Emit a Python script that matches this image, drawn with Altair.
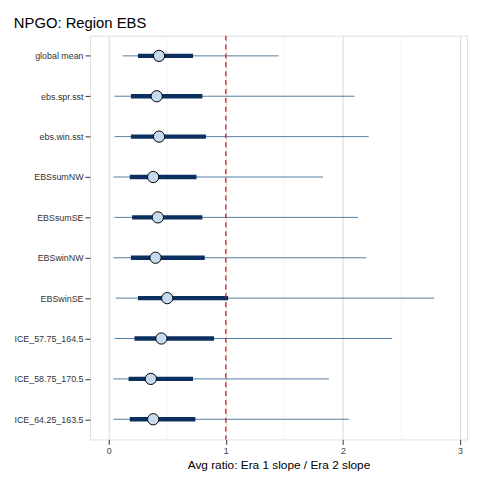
import altair as alt
import pandas as pd

labels = ["global mean","ebs.spr.sst","ebs.win.sst","EBSsumNW","EBSsumSE","EBSwinNW","EBSwinSE","ICE_57.75_164.5","ICE_58.75_170.5","ICE_64.25_163.5"]
mid = [0.43,0.41,0.43,0.38,0.42,0.40,0.50,0.45,0.36,0.38]
lo95 = [0.12,0.05,0.05,0.04,0.05,0.04,0.06,0.05,0.04,0.04]
hi95 = [1.45,2.10,2.22,1.83,2.13,2.20,2.78,2.42,1.88,2.05]
lo50 = [0.25,0.19,0.19,0.18,0.20,0.19,0.25,0.22,0.17,0.18]
hi50 = [0.72,0.80,0.83,0.75,0.80,0.82,1.02,0.90,0.72,0.74]

df = pd.DataFrame(dict(label=labels, mid=mid, lo95=lo95, hi95=hi95, lo50=lo50, hi50=hi50))
minor = pd.DataFrame(dict(v=[0.5,1.5,2.5]))

xs = alt.Scale(domain=[-0.16,3.06], nice=False)
ys = alt.Scale(type="point", padding=0.5, domain=labels)

y = alt.Y("label:N", scale=ys, sort=labels, title=None,
          axis=alt.Axis(labelColor="#333", labelFontSize=9, tickColor="#333", gridColor="#d9d9d9", domain=False))
xaxis = alt.Axis(values=[0,1,2,3], format="d", labelColor="#444", labelFontSize=9, gridColor="#d9d9d9",
                 tickColor="#333", title="Avg ratio: Era 1 slope / Era 2 slope", titleFontWeight="normal",
                 titleFontSize=12, titleColor="#000", domain=False, titlePadding=4)

grid = alt.Chart(minor).mark_rule(color="#ececec", strokeWidth=0.6).encode(x=alt.X("v:Q", scale=xs, axis=xaxis))
thin = alt.Chart(df).mark_rule(strokeWidth=0.9, color="#3f6f96").encode(
    x=alt.X("lo95:Q", scale=xs, axis=xaxis), x2="hi95", y=y)
thick = alt.Chart(df).mark_rule(strokeWidth=4.5, color="#0b2f5e").encode(
    x=alt.X("lo50:Q", scale=xs), x2="hi50", y=y)
vline = alt.Chart(pd.DataFrame(dict(v=[1]))).mark_rule(color="#ff0000", strokeDash=[5,4], strokeWidth=1.2).encode(
    x=alt.X("v:Q", scale=xs))
pts = alt.Chart(df).mark_point(filled=True, fill="#c6dbef", stroke="black", strokeWidth=1, size=130, opacity=1).encode(
    x=alt.X("mid:Q", scale=xs), y=y)

chart = alt.layer(grid, thin, thick, vline, pts).properties(
    width=470, height=470,
    title=alt.TitleParams("NPGO: Region EBS", anchor="start", fontSize=15, fontWeight="normal"),
    autosize=alt.AutoSizeParams(type="fit", contains="padding"),
).configure_view(stroke="#333", strokeWidth=1).configure(font="Liberation Sans")

chart.save("out.html", embed_options={"renderer": "svg", "actions": False})
